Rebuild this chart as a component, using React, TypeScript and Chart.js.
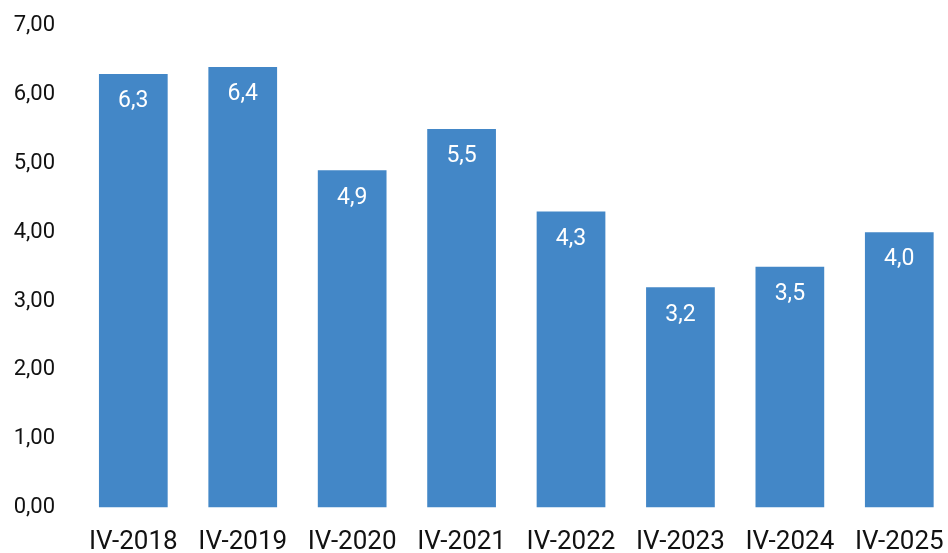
import React, { useEffect, useRef } from "react";
import { Chart, registerables } from "chart.js";

Chart.register(...registerables);

const categories = ["IV-2018", "IV-2019", "IV-2020", "IV-2021", "IV-2022", "IV-2023", "IV-2024", "IV-2025"];
const values = [6.3, 6.4, 4.9, 5.5, 4.3, 3.2, 3.5, 4.0];
const yMin = 0;
const yMax = 7;
const yStep = 1;

const BAR_COLOR = "#4387c7";
const TEXT_COLOR = "#111111";
const FONT = "Roboto";

const fmt = (v: number, d: number) => v.toFixed(d).replace(".", ",");

const valueLabels = {
  id: "valueLabels",
  afterDatasetsDraw(chart: any) {
    const ctx = chart.ctx;
    const meta = chart.getDatasetMeta(0);
    ctx.save();
    ctx.fillStyle = "#ffffff";
    ctx.font = `23px ${FONT}`;
    ctx.textAlign = "center";
    ctx.textBaseline = "middle";
    meta.data.forEach((bar: any, i: number) => {
      const v = chart.data.datasets[0].data[i] as number;
      ctx.fillText(fmt(v, 1), bar.x, bar.y + 27.5);
    });
    ctx.restore();
  },
};

export default function App() {
  const ref = useRef<HTMLCanvasElement | null>(null);
  useEffect(() => {
    if (!ref.current) return;
    const chart = new Chart(ref.current, {
      type: "bar",
      data: {
        labels: categories,
        datasets: [
          {
            data: values,
            backgroundColor: BAR_COLOR,
            barPercentage: 0.628,
            categoryPercentage: 1,
          },
        ],
      },
      options: {
        animation: false,
        responsive: true,
        maintainAspectRatio: false,
        layout: { padding: { top: 25.8, right: 0, left: 0, bottom: 0 } },
        plugins: { legend: { display: false }, tooltip: { enabled: false } },
        scales: {
          x: {
            grid: { display: false, drawTicks: false },
            border: { display: false },
            ticks: {
              color: TEXT_COLOR,
              font: { family: FONT, size: 26 },
              padding: 19,
              maxRotation: 0,
              autoSkip: false,
            },
            afterFit: (s: any) => {
              s.height = 45.5;
              s.paddingLeft = 0;
              s.paddingRight = 0;
            },
          },
          y: {
            min: yMin,
            max: yMax,
            grid: { display: false, drawTicks: false },
            border: { display: false },
            ticks: {
              stepSize: yStep,
              color: TEXT_COLOR,
              font: { family: FONT, size: 22 },
              padding: 23.5,
              callback: (v: any) => fmt(Number(v), 2),
            },
            afterFit: (s: any) => {
              s.width = 78.6;
              s.paddingTop = 0;
              s.paddingBottom = 0;
            },
          },
        },
      },
      plugins: [valueLabels],
    });
    return () => chart.destroy();
  }, []);
  return (
    <div style={{ position: "fixed", left: 0, top: 0, width: "954px", height: "553px" }}>
      <canvas ref={ref} />
    </div>
  );
}
